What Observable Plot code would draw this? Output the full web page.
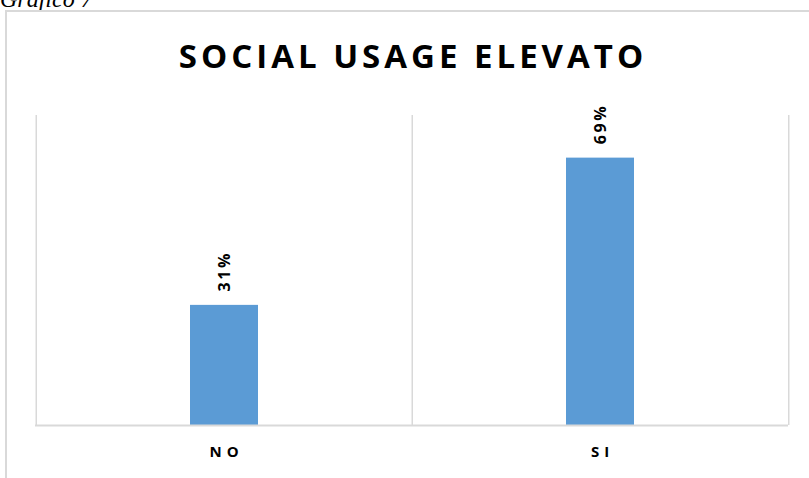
<!DOCTYPE html>
<html>
<head>
<meta charset="utf-8">
<script src="https://cdn.jsdelivr.net/npm/d3@7"></script>
<script src="https://cdn.jsdelivr.net/npm/@observablehq/plot@0.6"></script>
<style>
  html, body { margin: 0; padding: 0; background: #fff; }
  #wrap { position: relative; width: 809px; height: 478px; overflow: hidden; }
  #caption { position: absolute; left: 0; top: -14px; font-family: "Liberation Serif", serif; font-style: italic; font-size: 24px; color: #000; white-space: nowrap; }
  #box { position: absolute; left: 5px; top: 10px; width: 820px; height: 500px; border-left: 2px solid #d9d9d9; border-top: 2px solid #d9d9d9; }
  #chart { position: absolute; left: 0; top: 0; }
  .ttl text { letter-spacing: 4px; }
  .xax text { letter-spacing: 5px; }
  .vals text { letter-spacing: 2.5px; }
</style>
</head>
<body>
<div id="wrap">
  <div id="caption">Grafico 7</div>
  <div id="box"></div>
  <div id="chart"></div>
</div>
<script>
const title = "SOCIAL USAGE ELEVATO";
const categories = ["NO", "SI"];
const values = [0.31, 0.69];
const yMax = 0.8;

const data = categories.map((c, i) => ({cat: c, value: values[i]}));

const width = 809, height = 478;
const marginLeft = 35, marginRight = 21, marginTop = 115, marginBottom = 53;
const bandStep = (width - marginLeft - marginRight) / categories.length;
const grid = "#d9d9d9";

const chart = Plot.plot({
  width, height, marginLeft, marginRight, marginTop, marginBottom,
  style: {background: "transparent", fontFamily: "'Open Sans', sans-serif"},
  x: {domain: categories, paddingInner: 0.82, paddingOuter: 0.41, label: null},
  y: {domain: [0, yMax], axis: null},
  marks: [
    Plot.ruleX(categories, {dx: -bandStep / 2, stroke: grid, strokeWidth: 1.5}),
    Plot.ruleX(categories.slice(-1), {dx: bandStep / 2, stroke: grid, strokeWidth: 1.5}),
    Plot.barY(data, {x: "cat", y: "value", fill: "#5b9bd5"}),
    Plot.ruleY([0], {stroke: grid, strokeWidth: 2}),
    Plot.text(data, {
      x: "cat", y: "value", text: d => d3.format(".0%")(d.value),
      rotate: -90, textAnchor: "start", lineAnchor: "middle", dy: -14,
      fontSize: 16, fontWeight: "bold", fill: "#000", className: "vals"
    }),
    Plot.axisX({tickSize: 0, tickPadding: 21, fontSize: 15, fontWeight: "bold", fill: "#000",
      dx: 2, className: "xax"}),
    Plot.text([title], {frameAnchor: "top", dy: -71, dx: 1, fontSize: 33, fontWeight: "bold",
      fill: "#000", className: "ttl"})
  ]
});
document.getElementById("chart").appendChild(chart);
</script>
</body>
</html>
